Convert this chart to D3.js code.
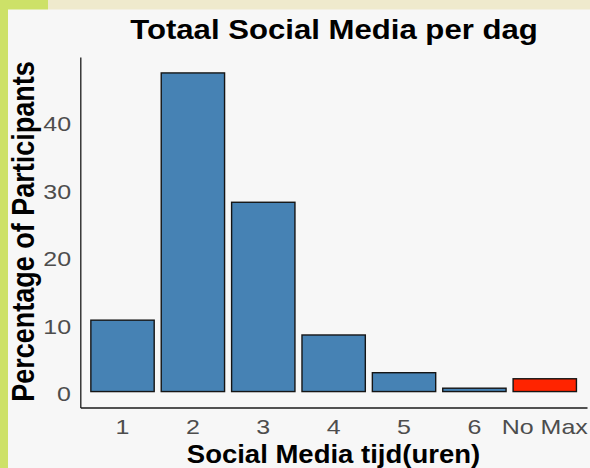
<html>
  <head>
    <title>Totaal Social Media per dag</title>
    <script src="https://d3js.org/d3.v7.min.js"></script>
    <style>
      body { margin: 0; background: #f7f7f7; }
      svg { display: block; font-family: "Liberation Sans", Arial, sans-serif; }
    </style>
  </head>

  <body>
    <div id='wrapper'>
      <script>
        // data
        var categories = ["1", "2", "3", "4", "5", "6", "No Max"];
        var percentages = [10.6, 47.3, 28.1, 8.4, 2.8, 0.5, 1.9];
        var yTicks = [0, 10, 20, 30, 40];
        var highlight = "No Max";

        var width = 590;
        var height = 468;

        // plot panel (note: "top" is taken by window.top)
        var panelLeft = 80.3;
        var panelRight = 587;
        var panelTop = 57;
        var panelBottom = 407.5;

        // the reference is a bit stretched sideways, so is the text
        var tickStretch = 1.19;

        var svg = d3.select("#wrapper").append("svg")
          .attr("width", width)
          .attr("height", height);

        // page background and the coloured bands on the edge
        svg.append("rect").attr("width", width).attr("height", height).attr("fill", "#f7f7f7");
        svg.append("rect").attr("x", 0).attr("y", 0).attr("width", 8).attr("height", height).attr("fill", "#cde168");
        svg.append("rect").attr("x", 0).attr("y", 0).attr("width", 48).attr("height", 9.5).attr("fill", "#cde168");
        svg.append("rect").attr("x", 48).attr("y", 0).attr("width", width - 48).attr("height", 9.5).attr("fill", "#efeacd");

        // scales (ggplot style expansion)
        var xScale = d3.scaleBand()
          .domain(categories)
          .range([panelLeft, panelRight])
          .paddingInner(0.1)
          .paddingOuter(0.15);

        var maxVal = d3.max(percentages);
        var yScale = d3.scaleLinear()
          .domain([-0.05 * maxVal, 1.05 * maxVal])
          .range([panelBottom, panelTop]);

        // bars
        svg.selectAll(".bar")
          .data(categories)
          .enter().append("rect")
          .attr("class", "bar")
          .attr("x", function(d) { return xScale(d); })
          .attr("y", function(d, i) { return yScale(percentages[i]); })
          .attr("width", xScale.bandwidth())
          .attr("height", function(d, i) { return yScale(0) - yScale(percentages[i]); })
          .attr("fill", function(d) { return d == highlight ? "#ff2400" : "#4682b4"; })
          .attr("stroke", "#151515")
          .attr("stroke-width", 1.4);

        // axes
        var xAxis = d3.axisBottom(xScale).tickSize(0).tickSizeOuter(0).tickPadding(11.5);
        var gx = svg.append("g")
          .attr("transform", "translate(0," + panelBottom + ")")
          .call(xAxis);

        var yAxis = d3.axisLeft(yScale).tickValues(yTicks).tickSize(0).tickSizeOuter(0).tickPadding(7.8);
        var gy = svg.append("g")
          .attr("transform", "translate(" + panelLeft + ",0)")
          .call(yAxis);

        [gx, gy].forEach(function(g) {
          g.select(".domain").attr("stroke", "#1a1a1a").attr("stroke-width", 1.3);
          g.selectAll("text")
            .attr("fill", "#4d4d4d")
            .style("font-size", "21px")
            .style("font-family", "'Liberation Sans', Arial, sans-serif")
            .attr("transform", "scale(" + tickStretch + ",1)");
        });
        gy.selectAll("text").attr("dy", "0.42em");

        // titles
        svg.append("text")
           .attr("transform", "translate(334,38.7) scale(1.12,1)")
           .style("text-anchor", "middle")
           .style("font-weight", "bold")
           .style("font-size", "27.8px")
           .text("Totaal Social Media per dag");

        svg.append("text")
           .attr("transform", "translate(333.5,463) scale(1.05,1)")
           .style("text-anchor", "middle")
           .style("font-weight", "bold")
           .style("font-size", "26.2px")
           .text("Social Media tijd(uren)");

        svg.append("text")
           .attr("transform", "translate(33.5,231.5) scale(1.19,1) rotate(-90)")
           .style("text-anchor", "middle")
           .style("font-weight", "bold")
           .style("font-size", "27px")
           .text("Percentage of Participants");
      </script>
    </div>
  </body>
</html>
